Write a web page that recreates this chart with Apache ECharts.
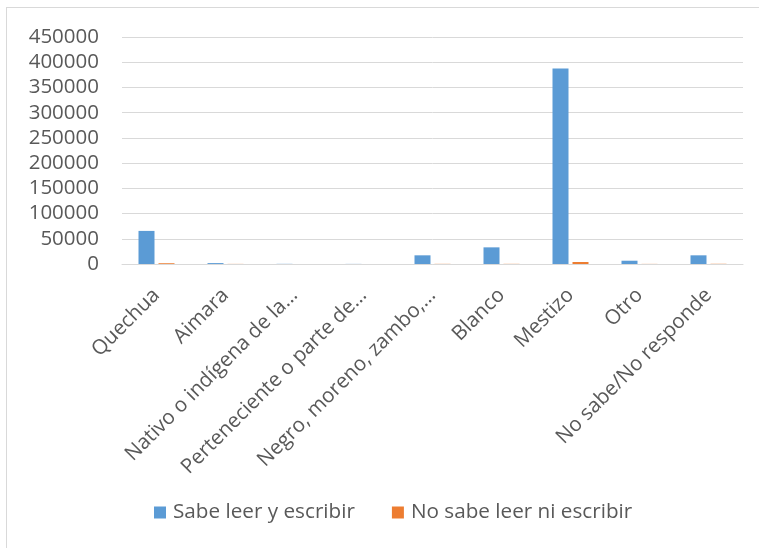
<!DOCTYPE html>
<html>
<head>
<meta charset="utf-8">
<script src="https://cdn.jsdelivr.net/npm/echarts@6/dist/echarts.min.js"></script>
<style>
html,body{margin:0;padding:0;background:#fff;}
#frame{position:absolute;left:6px;top:7px;width:760px;height:560px;border:1px solid #d9d9d9;box-sizing:border-box;}
#chart{position:absolute;left:0;top:0;width:759px;height:548px;}
</style>
</head>
<body>
<div id="frame"></div>
<div id="chart"></div>
<script>
const categories = ["Quechua", "Aimara", "Nativo o indígena de la…", "Perteneciente o parte de…", "Negro, moreno, zambo,…", "Blanco", "Mestizo", "Otro", "No sabe/No responde"];
const sabeLeer = [65600, 1800, 300, 200, 17200, 33000, 387500, 6500, 17200];
const noSabeLeer = [1500, 200, 50, 30, 300, 300, 4000, 200, 400];
const seriesNames = ["Sabe leer y escribir", "No sabe leer ni escribir"];
const yTicks = {min: 0, max: 450000, interval: 50000};

const chart = echarts.init(document.getElementById('chart'), null, {renderer: 'canvas'});
const font = '"Open Sans", sans-serif';
chart.setOption({
  animation: false,
  grid: {left: 122, right: 16, top: 37, bottom: 284, containLabel: false},
  legend: {
    top: 497, left: 149,
    itemWidth: 12, itemHeight: 12, itemGap: 37,
    icon: 'rect',
    textStyle: {fontFamily: font, fontSize: 20.7, color: '#595959', padding: [0, 0, 0, 2]},
    data: seriesNames
  },
  xAxis: {
    type: 'category', data: categories,
    axisLine: {lineStyle: {color: '#d9d9d9', width: 1}},
    axisTick: {show: false},
    axisLabel: {rotate: 45, interval: 0, fontFamily: font, fontSize: 20.5, color: '#595959', margin: 28,
      formatter: v => v}
  },
  yAxis: {
    type: 'value', min: yTicks.min, max: yTicks.max, interval: yTicks.interval,
    axisLine: {show: false}, axisTick: {show: false},
    splitLine: {lineStyle: {color: '#d9d9d9', width: 1}},
    axisLabel: {fontFamily: font, fontSize: 20.5, color: '#595959', margin: 23, formatter: v => String(v)}
  },
  series: [
    {name: seriesNames[0], type: 'bar', data: sabeLeer, barWidth: 16, barGap: '25%', itemStyle: {color: '#5B9BD5'}},
    {name: seriesNames[1], type: 'bar', data: noSabeLeer, barWidth: 16, itemStyle: {color: '#ED7D31'}}
  ]
});
</script>
</body>
</html>
